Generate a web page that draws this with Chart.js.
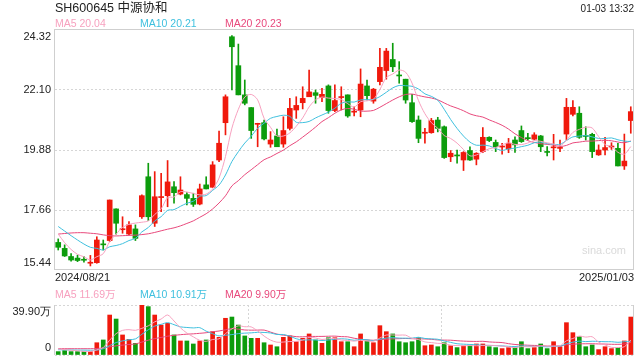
<!DOCTYPE html>
<html><head><meta charset="utf-8">
<script src="https://cdn.jsdelivr.net/npm/chart.js@4.4.1/dist/chart.umd.min.js"></script>
<style>
html,body{margin:0;padding:0;background:#fff;width:640px;height:360px;overflow:hidden;}
#wrap{position:relative;width:640px;height:360px;font-family:"Liberation Sans",Arial,"Noto Sans CJK SC",sans-serif;}
canvas{position:absolute;left:0;}
.t{position:absolute;white-space:nowrap;}
</style></head><body>
<div id="wrap">
<canvas id="pc" width="640" height="290" style="top:0;width:640px;height:290px"></canvas>
<canvas id="vc" width="640" height="75" style="top:285px;width:640px;height:75px"></canvas>
</div>
<script>
// ---------- data ----------
const title = 'SH600645 中源协和';
const stamp = '01-03 13:32';
const priceLegend = ['MA5 20.04', 'MA10 20.21', 'MA20 20.23'];
const volLegend = ['MA5 11.69万', 'MA10 10.91万', 'MA20 9.90万'];
const yTicks = [15.44, 17.66, 19.88, 22.10, 24.32];
const volTicks = [0, 39.90];
const volUnit = '万';

const dates = [
'2024/08/21','2024/08/22','2024/08/23','2024/08/26','2024/08/27','2024/08/28','2024/08/29','2024/08/30',
'2024/09/02','2024/09/03','2024/09/04','2024/09/05','2024/09/06','2024/09/09','2024/09/10','2024/09/11','2024/09/12','2024/09/13',
'2024/09/18','2024/09/19','2024/09/20','2024/09/23','2024/09/24','2024/09/25','2024/09/26','2024/09/27','2024/09/30',
'2024/10/08','2024/10/09','2024/10/10','2024/10/11','2024/10/14','2024/10/15','2024/10/16','2024/10/17','2024/10/18',
'2024/10/21','2024/10/22','2024/10/23','2024/10/24','2024/10/25','2024/10/28','2024/10/29','2024/10/30','2024/10/31',
'2024/11/01','2024/11/04','2024/11/05','2024/11/06','2024/11/07','2024/11/08','2024/11/11','2024/11/12','2024/11/13','2024/11/14','2024/11/15',
'2024/11/18','2024/11/19','2024/11/20','2024/11/21','2024/11/22','2024/11/25','2024/11/26','2024/11/27','2024/11/28','2024/11/29',
'2024/12/02','2024/12/03','2024/12/04','2024/12/05','2024/12/06','2024/12/09','2024/12/10','2024/12/11','2024/12/12','2024/12/13',
'2024/12/16','2024/12/17','2024/12/18','2024/12/19','2024/12/20','2024/12/23','2024/12/24','2024/12/25','2024/12/26','2024/12/27',
'2024/12/30','2024/12/31','2025/01/02','2025/01/03'];

const open = [16.46,16.24,15.94,15.88,15.83,15.69,15.71,16.39,16.53,17.70,
16.93,16.77,16.96,17.41,18.89,17.17,18.12,18.19,18.52,18.25,
18.23,18.09,17.88,18.59,18.50,19.51,20.89,24.07,23.00,21.92,
21.45,20.83,20.89,20.10,20.40,20.10,20.68,21.36,21.63,21.85,
22.00,21.82,22.25,21.34,21.82,21.92,21.28,21.36,22.25,21.69,
22.41,22.82,23.23,22.65,22.50,21.63,20.99,20.50,20.52,20.99,
20.74,19.63,19.67,19.51,19.86,19.54,19.82,20.35,20.16,19.99,
19.92,20.25,20.60,20.31,20.28,20.40,19.80,19.96,19.94,20.47,
21.20,21.24,20.40,20.46,19.70,19.88,19.99,19.94,19.29,20.97];
const high = [16.59,16.37,16.05,15.99,15.94,15.98,16.67,16.55,18.03,17.70,
17.41,17.23,17.11,18.22,19.39,19.08,19.02,19.49,18.71,18.89,
18.30,18.28,18.62,18.89,19.45,20.58,21.92,24.11,23.80,22.47,
21.45,20.87,20.99,20.56,20.65,21.11,21.79,21.85,22.22,22.84,
22.10,22.16,22.29,22.29,22.22,21.92,21.48,22.88,22.47,22.16,
23.64,23.64,23.83,23.15,22.50,21.94,21.14,20.68,21.05,21.09,
20.77,19.86,19.88,19.82,20.00,19.78,20.71,20.37,20.25,20.13,
20.31,20.37,20.77,20.50,20.52,20.42,20.01,20.46,20.25,21.79,
21.71,21.48,20.74,20.50,20.07,20.35,20.15,20.13,20.47,21.48];
const low = [16.18,15.94,15.77,15.75,15.73,15.59,15.69,16.18,16.49,16.77,
16.80,16.74,16.53,17.35,17.27,17.05,17.60,17.78,17.91,18.22,
17.85,17.79,17.85,18.44,18.50,19.45,20.44,22.10,21.92,21.55,
20.31,20.00,20.25,19.98,20.00,19.98,20.62,21.05,21.40,21.85,
21.61,21.67,21.24,21.30,21.36,21.09,21.14,21.11,21.73,21.61,
22.29,22.50,22.78,22.35,21.61,20.90,20.15,20.13,20.50,20.55,
19.57,19.45,19.39,19.12,19.49,19.33,19.78,20.19,19.82,19.73,
19.78,19.79,20.16,20.25,20.25,19.82,19.66,19.51,19.82,20.25,
21.14,20.31,20.25,19.60,19.68,19.70,19.90,19.29,19.16,20.50];
const close = [16.28,15.96,15.81,15.79,15.80,15.71,16.55,16.37,18.03,17.17,
16.96,17.11,16.61,18.19,17.41,18.15,18.14,18.70,18.30,18.40,
18.09,17.87,18.44,18.44,19.33,20.13,21.85,23.70,21.92,21.61,
20.60,20.85,20.29,20.25,20.00,20.60,21.42,21.53,21.79,22.03,
21.90,21.94,21.34,21.71,21.84,21.14,21.31,22.32,21.89,22.13,
22.94,23.54,22.96,22.62,21.73,20.93,20.31,20.52,20.97,20.68,
19.60,19.76,19.66,19.79,19.51,19.76,20.35,20.23,20.00,20.01,
20.13,20.07,20.19,20.30,20.44,20.00,19.79,19.98,19.96,21.46,
21.46,20.35,20.38,19.82,19.88,19.97,20.01,19.29,19.47,21.30];
// volume in 万
const volume = [2.7,3.5,2.7,2.7,2.7,2.7,9.8,12.0,31.9,28.7,
16.0,12.5,9.3,39.9,38.6,31.9,23.9,25.3,16.0,11.2,
11.2,8.8,11.2,12.0,18.6,14.1,29.3,30.3,23.9,15.2,
13.3,13.3,9.8,8.0,6.6,14.1,15.2,10.6,13.3,16.8,
12.0,9.3,13.8,13.8,10.6,10.6,6.6,16.8,11.2,9.8,
23.4,18.6,16.8,10.6,9.8,10.6,13.8,7.4,8.0,6.6,
9.8,7.4,5.9,7.2,7.4,8.8,8.8,6.6,5.9,5.1,
5.9,5.9,10.6,5.1,5.9,8.8,5.1,10.6,6.6,25.8,
17.8,14.6,6.6,8.0,4.3,6.6,5.1,5.9,11.2,30.3];
// moving-average values before enough in-window history
const ma5Head = [16.77,16.45,16.20,16.02];
const ma10Head = [17.05,16.88,16.71,16.55,16.40,16.28,16.24,16.18,16.30];
const ma20Head = [16.77,16.79,16.81,16.82,16.82,16.80,16.78,16.74,16.71,16.70,16.71,16.72,16.73,16.75,16.78,16.83,16.89,16.95,17.00];
const volMa5Head = [4.8,4.3,3.8,3.4];
const volMa10Head = [4.2,4.1,4.0,3.9,3.9,3.8,3.9,5.0,7.5];
const volMa20Head = [5.0,5.0,5.0,5.0,5.0,5.0,5.2,5.6,6.5,7.3,7.9,8.4,8.8,10.3,11.8,13.1,14.0,15.0,15.7];

// ---------- styles ----------
const RED = '#f0190c', GREEN = '#0c9c0c';
const C5 = '#f7a1bf', C10 = '#3fc0de', C20 = '#e8497c';
const FRAME = '#cfcfcf', GRID = '#d6d6d6';
const FONT = '"Liberation Sans", Arial, sans-serif';

function ma(src, n, head) {
  return src.map((_, i) => {
    if (i < n - 1) return head[i];
    let s = 0; for (let k = i - n + 1; k <= i; k++) s += src[k];
    return s / n;
  });
}
const N = close.length;
const dirColor = close.map((c, i) => c >= open[i] ? RED : GREEN);

// ---------- HTML text ----------
const wrap = document.getElementById('wrap');
function addText(txt, css) {
  const d = document.createElement('div');
  d.className = 't'; d.textContent = txt;
  Object.assign(d.style, css);
  wrap.appendChild(d);
}
addText(title, {left:'55px', top:'1.7px', fontSize:'12.5px', lineHeight:'12.5px', color:'#222'});
addText(stamp, {right:'6px', top:'4.3px', fontSize:'10px', lineHeight:'10px', color:'#222'});
const legCols = [C5, C10, C20], legX = [55, 140, 225];
priceLegend.forEach((s, i) => addText(s, {left:legX[i]+'px', top:'18.4px', fontSize:'10.5px', lineHeight:'10.5px', color:legCols[i]}));
volLegend.forEach((s, i) => addText(s, {left:legX[i]+'px', top:'289.4px', fontSize:'10.5px', lineHeight:'10.5px', color:legCols[i]}));
addText('sina.com', {left:'582px', top:'244.7px', fontSize:'11px', lineHeight:'11px', color:'#dadada'});

// ---------- plugins ----------
const priceFrame = {
  id: 'priceFrame',
  afterDraw(chart) {
    const {ctx, chartArea: a} = chart;
    ctx.save();
    ctx.strokeStyle = FRAME; ctx.lineWidth = 1;
    ctx.strokeRect(Math.round(a.left) - 0.5, Math.round(a.top) - 0.5, Math.round(a.right - a.left), Math.round(a.bottom - a.top));
    ctx.restore();
  }
};
const volFrame = {
  id: 'volFrame',
  afterDraw(chart) {
    const {ctx, chartArea: a} = chart;
    ctx.save();
    ctx.strokeStyle = FRAME; ctx.lineWidth = 1;
    ctx.beginPath();
    ctx.moveTo(Math.round(a.left) - 0.5, a.top); ctx.lineTo(Math.round(a.left) - 0.5, a.bottom);
    ctx.moveTo(Math.round(a.right) - 0.5, a.top); ctx.lineTo(Math.round(a.right) - 0.5, a.bottom);
    ctx.stroke();
    ctx.strokeStyle = GRID; ctx.setLineDash([2, 2]);
    ctx.beginPath();
    [1, 2].forEach(k => {
      const x = Math.round(a.left + (a.right - a.left) * k / 3) + 0.5;
      ctx.moveTo(x, a.top); ctx.lineTo(x, a.bottom);
    });
    ctx.stroke();
    ctx.restore();
  }
};

function edgeLabel(text, i, n) {
  if (i === 0) return [text, ''];
  if (i === n - 1) return ['', text];
  return text;
}

// ---------- price chart ----------
new Chart(document.getElementById('pc'), {
  data: {
    labels: dates,
    datasets: [
      {type:'line', data: ma(close, 5, ma5Head), borderColor: C5, borderWidth: 1, pointRadius: 0, tension: 0.3, order: 0},
      {type:'line', data: ma(close, 10, ma10Head), borderColor: C10, borderWidth: 1, pointRadius: 0, tension: 0.3, order: 0},
      {type:'line', data: ma(close, 20, ma20Head), borderColor: C20, borderWidth: 1, pointRadius: 0, tension: 0.3, order: 0},
      {type:'bar', data: open.map((o, i) => [o, close[i]]), backgroundColor: dirColor, barThickness: 5, minBarLength: 1, grouped: false, borderWidth: 0, borderSkipped: false, order: 1},
      {type:'bar', data: low.map((l, i) => [l, high[i]]), backgroundColor: dirColor, barThickness: 1, grouped: false, borderWidth: 0, borderSkipped: false, order: 2}
    ]
  },
  options: {
    responsive: false, animation: false, devicePixelRatio: 1,
    layout: {padding: {top: 30, right: 6, left: 0, bottom: 0}},
    plugins: {legend: {display: false}, tooltip: {enabled: false}},
    scales: {
      x: {type: 'category', offset: true, display: false},
      xl: {
        type: 'category', position: 'bottom', offset: false, labels: dates,
        grid: {display: false, drawTicks: false}, border: {display: false},
        ticks: {autoSkip: false, maxRotation: 0, minRotation: 0, align: 'inner', padding: 1,
          font: {family: FONT, size: 11}, color: '#222',
          callback: (v, i) => (i === 0 || i === N - 1) ? dates[i] : ''},
        afterFit: s => { s.height = 20; s.paddingLeft = 0; s.paddingRight = 0; }
      },
      y: {
        type: 'linear', position: 'left', min: yTicks[0], max: yTicks[yTicks.length - 1],
        afterBuildTicks: s => { s.ticks = yTicks.map(v => ({value: v})); },
        grid: {drawTicks: false, color: c => (c.index > 0 && c.index < yTicks.length - 1) ? GRID : 'rgba(0,0,0,0)', borderDash: [2, 2]},
        border: {display: false, dash: [2, 2]},
        ticks: {padding: 4, font: {family: FONT, size: 11}, color: '#222',
          callback: (v, i) => edgeLabel(yTicks[i].toFixed(2), i, yTicks.length)},
        afterFit: s => { s.width = 55; s.paddingTop = 0; s.paddingBottom = 0; }
      }
    }
  },
  plugins: [priceFrame]
});

// ---------- volume chart ----------
new Chart(document.getElementById('vc'), {
  data: {
    labels: dates,
    datasets: [
      {type:'line', data: ma(volume, 5, volMa5Head), borderColor: C5, borderWidth: 1, pointRadius: 0, tension: 0.3, order: 0},
      {type:'line', data: ma(volume, 10, volMa10Head), borderColor: C10, borderWidth: 1, pointRadius: 0, tension: 0.3, order: 0},
      {type:'line', data: ma(volume, 20, volMa20Head), borderColor: C20, borderWidth: 1, pointRadius: 0, tension: 0.3, order: 0},
      {type:'bar', data: volume, backgroundColor: dirColor, barThickness: 4, borderWidth: 0, order: 1}
    ]
  },
  options: {
    responsive: false, animation: false, devicePixelRatio: 1,
    layout: {padding: {top: 20, right: 6, left: 0, bottom: 5}},
    plugins: {legend: {display: false}, tooltip: {enabled: false}},
    scales: {
      x: {type: 'category', offset: true, display: false},
      y: {
        type: 'linear', position: 'left', min: volTicks[0], max: volTicks[volTicks.length - 1],
        afterBuildTicks: s => { s.ticks = volTicks.map(v => ({value: v})); },
        grid: {drawTicks: false, color: GRID, borderDash: [2, 2]},
        border: {display: false, dash: [2, 2]},
        ticks: {padding: 4, font: {family: FONT, size: 11}, color: '#222',
          callback: (v, i) => edgeLabel(i === 0 ? '0' : volTicks[i].toFixed(2) + volUnit, i, volTicks.length)},
        afterFit: s => { s.width = 55; s.paddingTop = 0; s.paddingBottom = 0; }
      }
    }
  },
  plugins: [volFrame]
});
</script>
</body></html>
